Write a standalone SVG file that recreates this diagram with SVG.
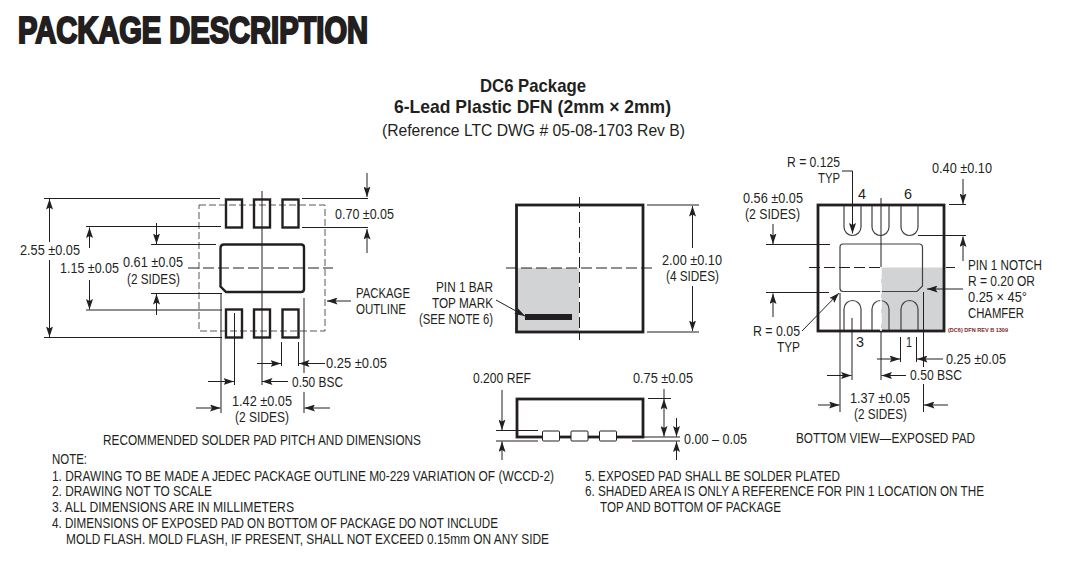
<svg xmlns="http://www.w3.org/2000/svg" width="1069" height="563" viewBox="0 0 1069 563">
<style>
text{font-family:"Liberation Sans",Arial,sans-serif;font-size:15px;fill:#231f20}
.n{font-size:14.500px}
.b{font-weight:bold;font-size:18.500px}
.r{font-size:17px}
.h{font-weight:bold;font-size:25px;stroke:#231f20;stroke-width:1.500px}
.t{font-size:5.500px;font-weight:bold;fill:#7a2626}
.l{stroke:#231f20;stroke-width:1;fill:none}
.a{stroke:#231f20;stroke-width:1;fill:none;marker-end:url(#ah)}
.k{stroke:#231f20;stroke-width:2.800px;fill:none}
.pad{stroke:#231f20;stroke-width:2.400px;fill:none}
.thin{stroke:#414042;stroke-width:1.200px;fill:none}
.d{stroke:#231f20;stroke-width:1;fill:none;stroke-dasharray:11 4}
.o{stroke:#58595b;stroke-width:1;fill:none;stroke-dasharray:7 3}
.g{fill:#d1d3d4}
</style>
<defs>
<marker id="ah" markerUnits="userSpaceOnUse" markerWidth="11" markerHeight="7" refX="10.500" refY="3.500" orient="auto"><path d="M0 0L10.500 3.500L0 7L2 3.500Z" fill="#231f20"/></marker>
</defs>
<rect width="1069" height="563" fill="#fff"/>
<g id="title">
<text class="h" transform="translate(18 43) scale(1 1.450)" textLength="350" lengthAdjust="spacingAndGlyphs">PACKAGE DESCRIPTION</text>
<text class="b" x="480" y="92" textLength="106" lengthAdjust="spacingAndGlyphs">DC6 Package</text>
<text class="b" x="394" y="113" textLength="277" lengthAdjust="spacingAndGlyphs">6-Lead Plastic DFN (2mm × 2mm)</text>
<text class="r" x="382" y="136" textLength="303" lengthAdjust="spacingAndGlyphs">(Reference LTC DWG # 05-08-1703 Rev B)</text>
</g>
<g id="solder-pad-view">
<rect class="o" x="199" y="205" width="126" height="126"/>
<rect class="pad" x="226" y="199.500" width="16" height="28"/>
<rect class="pad" x="254" y="199.500" width="16" height="28"/>
<rect class="pad" x="282.500" y="199.500" width="16" height="28"/>
<rect class="pad" x="226" y="309.500" width="16" height="28"/>
<rect class="pad" x="254" y="309.500" width="16" height="28"/>
<rect class="pad" x="282.500" y="309.500" width="16" height="28"/>
<path class="pad" d="M224 244.500H301Q304 244.500 304 247.500V289Q304 292 301 292H226L220.500 286.500V248Q220.500 244.500 224 244.500Z"/>
<path class="l" d="M262 191V385"/>
<path class="d" d="M188 268H333"/>
<text x="335" y="219" textLength="59" lengthAdjust="spacingAndGlyphs">0.70 ±0.05</text>
<text x="20" y="255" textLength="60" lengthAdjust="spacingAndGlyphs">2.55 ±0.05</text>
<text x="60" y="273" textLength="59" lengthAdjust="spacingAndGlyphs">1.15 ±0.05</text>
<text x="123" y="267" textLength="60" lengthAdjust="spacingAndGlyphs">0.61 ±0.05</text>
<text x="127" y="284" textLength="53" lengthAdjust="spacingAndGlyphs">(2 SIDES)</text>
<text x="356" y="298" textLength="54" lengthAdjust="spacingAndGlyphs">PACKAGE</text>
<text x="356" y="314" textLength="50" lengthAdjust="spacingAndGlyphs">OUTLINE</text>
<text x="326" y="368" textLength="61" lengthAdjust="spacingAndGlyphs">0.25 ±0.05</text>
<text x="292" y="387" textLength="51" lengthAdjust="spacingAndGlyphs">0.50 BSC</text>
<text x="232" y="406" textLength="60" lengthAdjust="spacingAndGlyphs">1.42 ±0.05</text>
<text x="235" y="422" textLength="54" lengthAdjust="spacingAndGlyphs">(2 SIDES)</text>
<text class="n" x="103" y="445" textLength="318" lengthAdjust="spacingAndGlyphs">RECOMMENDED SOLDER PAD PITCH AND DIMENSIONS</text>
</g>
<g id="top-view">
<rect class="g" x="516" y="268" width="63" height="64"/>
<rect class="k" x="516.500" y="205" width="126.500" height="127"/>
<rect x="525" y="314" width="47" height="6" fill="#231f20"/>
<path class="d" d="M579.500 197V340"/>
<path class="d" d="M506 268H653"/>
<text x="662" y="265" textLength="60" lengthAdjust="spacingAndGlyphs">2.00 ±0.10</text>
<text x="666" y="281" textLength="53" lengthAdjust="spacingAndGlyphs">(4 SIDES)</text>
<text x="436" y="292" textLength="57" lengthAdjust="spacingAndGlyphs">PIN 1 BAR</text>
<text x="432" y="308" textLength="61" lengthAdjust="spacingAndGlyphs">TOP MARK</text>
<text x="419" y="324" textLength="74" lengthAdjust="spacingAndGlyphs">(SEE NOTE 6)</text>
</g>
<g id="side-view">
<rect class="k" x="517" y="399" width="126" height="38"/>
<rect x="542.500" y="431" width="17" height="10" rx="1" fill="#fff" stroke="#231f20"/>
<rect x="571" y="431" width="17" height="10" rx="1" fill="#fff" stroke="#231f20"/>
<rect x="599.500" y="431" width="17" height="10" rx="1" fill="#fff" stroke="#231f20"/>
<text x="473" y="383" textLength="58" lengthAdjust="spacingAndGlyphs">0.200 REF</text>
<text x="633" y="383" textLength="60" lengthAdjust="spacingAndGlyphs">0.75 ±0.05</text>
<text x="684" y="444" textLength="63" lengthAdjust="spacingAndGlyphs">0.00 – 0.05</text>
</g>
<g id="bottom-view">
<rect class="g" x="881" y="267.500" width="63" height="63.500"/>
<rect class="k" x="818" y="205" width="126" height="126"/>
<path class="thin" d="M844 206V227A8.500 8.500 0 0 0 861 227V206"/>
<path class="thin" d="M872 206V227A8.500 8.500 0 0 0 889 227V206"/>
<path class="thin" d="M901 206V227A8.500 8.500 0 0 0 918 227V206"/>
<path class="thin" d="M844 330V309A8.500 8.500 0 0 1 861 309V330"/>
<path class="thin" d="M872 330V309A8.500 8.500 0 0 1 889 309V330"/>
<path class="thin" d="M901 330V309A8.500 8.500 0 0 1 918 309V330"/>
<path class="thin" d="M843 244H919Q922.500 244 922.500 247.500V286L917 291.500H843Q840 291.500 840 288.500V247Q840 244 843 244Z"/>
<path class="l" d="M881 198V267M881 332V380"/>
<path d="M881 268V331" stroke="#fff" stroke-width="1.500" stroke-dasharray="11 4" fill="none"/>
<path class="d" d="M809 267.500H881M946 267.500H955"/>
<text x="787" y="167" textLength="53" lengthAdjust="spacingAndGlyphs">R = 0.125</text>
<text x="818" y="183" textLength="22" lengthAdjust="spacingAndGlyphs">TYP</text>
<text x="858" y="199" textLength="8" lengthAdjust="spacingAndGlyphs">4</text>
<text x="904" y="199" textLength="8" lengthAdjust="spacingAndGlyphs">6</text>
<text x="932" y="173" textLength="60" lengthAdjust="spacingAndGlyphs">0.40 ±0.10</text>
<text x="743" y="203" textLength="60" lengthAdjust="spacingAndGlyphs">0.56 ±0.05</text>
<text x="745" y="219" textLength="55" lengthAdjust="spacingAndGlyphs">(2 SIDES)</text>
<text x="753" y="336" textLength="47" lengthAdjust="spacingAndGlyphs">R = 0.05</text>
<text x="777" y="352" textLength="23" lengthAdjust="spacingAndGlyphs">TYP</text>
<text x="856" y="347" textLength="8" lengthAdjust="spacingAndGlyphs">3</text>
<text x="906" y="347" textLength="6" lengthAdjust="spacingAndGlyphs">1</text>
<text x="968" y="270" textLength="74" lengthAdjust="spacingAndGlyphs">PIN 1 NOTCH</text>
<text x="968" y="286" textLength="67" lengthAdjust="spacingAndGlyphs">R = 0.20 OR</text>
<text x="968" y="302" textLength="59" lengthAdjust="spacingAndGlyphs">0.25 × 45°</text>
<text x="968" y="318" textLength="56" lengthAdjust="spacingAndGlyphs">CHAMFER</text>
<text class="t" x="948" y="332" textLength="60" lengthAdjust="spacingAndGlyphs">(DC6) DFN REV B 1309</text>
<text x="946" y="364" textLength="60" lengthAdjust="spacingAndGlyphs">0.25 ±0.05</text>
<text x="910" y="380" textLength="52" lengthAdjust="spacingAndGlyphs">0.50 BSC</text>
<text x="850" y="403" textLength="60" lengthAdjust="spacingAndGlyphs">1.37 ±0.05</text>
<text x="854" y="419" textLength="53" lengthAdjust="spacingAndGlyphs">(2 SIDES)</text>
<text class="n" x="796" y="443" textLength="179" lengthAdjust="spacingAndGlyphs">BOTTOM VIEW—EXPOSED PAD</text>
</g>
<g id="connectors">
<path class="l" d="M44 198.500H220M302 198.500H368M302 227.500H368M86 226.500H221M86 310H222M44 337.500H222M151 244.500H216M151 293.500H222M221 293V413M304 298V373M304 392V413M234.500 313V385M281.500 342V366M298.500 342V366"/>
<path class="a" d="M367 173V197"/><path class="a" d="M367 253V229"/>
<path class="a" d="M49.500 242V199"/><path class="a" d="M49.500 260V337"/>
<path class="a" d="M89.500 248V227.500"/><path class="a" d="M89.500 280V309.500"/>
<path class="a" d="M156.500 223V244"/><path class="a" d="M156.500 315V294"/>
<path class="a" d="M257 363.500H281"/><path class="a" d="M325 363.500H299"/>
<path class="a" d="M208 381.500H234"/><path class="a" d="M288 381.500H262"/>
<path class="a" d="M196 408H220.500"/><path class="a" d="M330 408H304.500"/>
<path class="a" d="M351 301H327"/>
<path class="l" d="M647 205H699M647 332H699"/>
<path class="a" d="M692.500 248V206"/><path class="a" d="M692.500 286V331"/>
<path class="a" d="M496 300L525 316"/>
<path class="l" d="M496 430.500H538M496 441H538M632 441H680M640 437H680M648 398.500H671"/>
<path class="a" d="M502 390V430"/><path class="a" d="M502 460V441.500"/>
<path class="a" d="M664 420V399"/><path class="a" d="M664 420V436.500"/>
<path class="l" d="M664 389V399"/>
<path class="a" d="M676.500 418V436.500"/><path class="a" d="M676.500 460V441.500"/>
<path class="l" d="M949 204.500H966M918 235.500H966M766 244.500H830M766 292.500H829M840 293V412M923.500 292V367M923.500 384V412M852 318V380M900.500 337V362M916.500 337V362"/>
<path class="a" d="M963 179V204"/><path class="a" d="M963 261V236.500"/>
<path class="a" d="M773 224V244"/><path class="a" d="M773 317V293.500"/>
<path class="a" d="M842 171H852.500V233.500"/>
<path class="a" d="M802 331L839 293"/>
<path class="a" d="M963 289H927"/>
<path class="a" d="M877 359H900"/><path class="a" d="M943 359H917"/>
<path class="a" d="M827 375.500H851.500"/><path class="a" d="M906 375.500H881.500"/>
<path class="a" d="M818 405H839.500"/><path class="a" d="M948 405H924"/>
</g>
<g id="notes">
<text class="n" x="52" y="464" textLength="35" lengthAdjust="spacingAndGlyphs">NOTE:</text>
<text class="n" transform="translate(52 481) scale(.850 1)" textLength="590.600" lengthAdjust="spacingAndGlyphs">1. DRAWING TO BE MADE A JEDEC PACKAGE OUTLINE M0-229 VARIATION OF (WCCD-2)</text>
<text class="n" x="52" y="496" textLength="160" lengthAdjust="spacingAndGlyphs">2. DRAWING NOT TO SCALE</text>
<text class="n" x="52" y="512" textLength="242" lengthAdjust="spacingAndGlyphs">3. ALL DIMENSIONS ARE IN MILLIMETERS</text>
<text class="n" x="52" y="528" textLength="446" lengthAdjust="spacingAndGlyphs">4. DIMENSIONS OF EXPOSED PAD ON BOTTOM OF PACKAGE DO NOT INCLUDE</text>
<text class="n" x="66" y="544" textLength="483" lengthAdjust="spacingAndGlyphs">MOLD FLASH. MOLD FLASH, IF PRESENT, SHALL NOT EXCEED 0.15mm ON ANY SIDE</text>
<text class="n" x="585" y="481" textLength="255" lengthAdjust="spacingAndGlyphs">5. EXPOSED PAD SHALL BE SOLDER PLATED</text>
<text class="n" transform="translate(585 496) scale(.850 1)" textLength="469.400" lengthAdjust="spacingAndGlyphs">6. SHADED AREA IS ONLY A REFERENCE FOR PIN 1 LOCATION ON THE</text>
<text class="n" x="600" y="512" textLength="181" lengthAdjust="spacingAndGlyphs">TOP AND BOTTOM OF PACKAGE</text>
</g>
</svg>
